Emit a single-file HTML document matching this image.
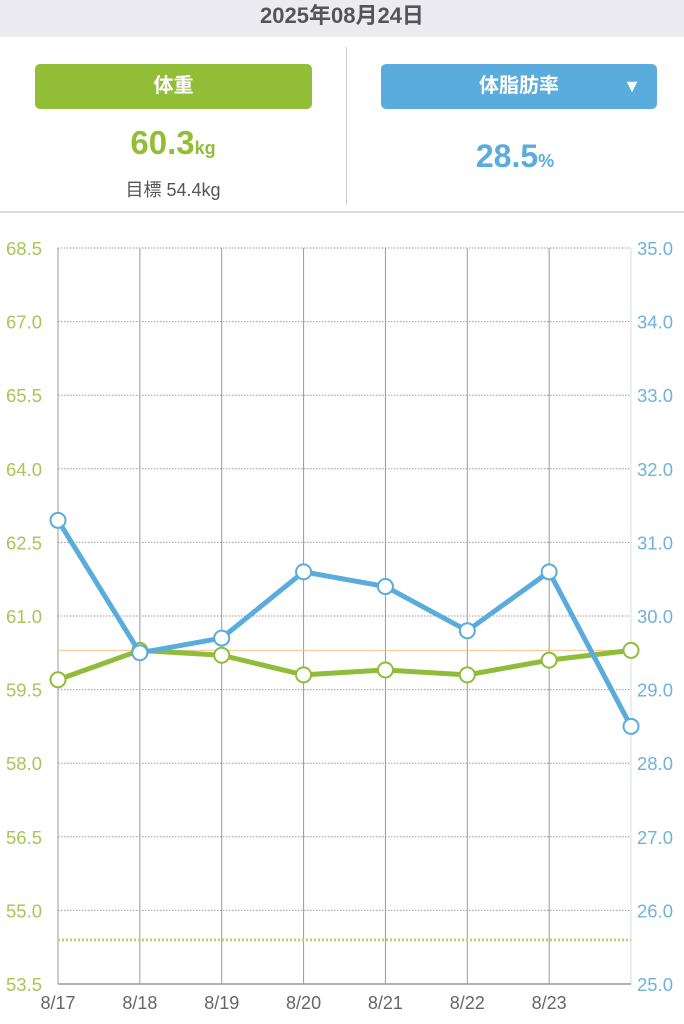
<!DOCTYPE html>
<html><head><meta charset="utf-8"><style>
body{margin:0;width:684px;height:1024px;background:#fff;font-family:"Liberation Sans","Noto Sans CJK JP",sans-serif;position:relative;overflow:hidden}
.hdr{position:absolute;left:0;top:0;width:684px;height:37px;background:#ebebf1;text-align:center;font-size:22px;line-height:31px;color:#555;font-weight:bold}
.btn{position:absolute;top:64px;height:45px;border-radius:5px;color:#fff;font-size:20px;line-height:45px;text-align:center;font-weight:bold}
</style></head><body>
<div class="hdr">2025年08月24日</div>
<div class="btn" style="left:35px;width:277px;background:#92bd36">体重</div>
<div class="btn" style="left:381px;width:276px;background:#5aacdc">体脂肪率<span style="position:absolute;right:16px;top:0;font-size:18px">▼</span></div>
<div style="position:absolute;left:0;width:346px;top:124px;text-align:center;color:#92bd36;font-size:33px;font-weight:bold">60.3<span style="font-size:18px">kg</span></div>
<div style="position:absolute;left:0;width:346px;top:176px;text-align:center;color:#555;font-size:18px">目標 54.4kg</div>
<div style="position:absolute;left:346px;width:338px;top:138px;text-align:center;color:#5aacdc;font-size:32px;font-weight:bold">28.5<span style="font-size:18px">%</span></div>
<div style="position:absolute;left:346px;top:47px;width:1px;height:158px;background:#ccc"></div>
<div style="position:absolute;left:0;top:211px;width:684px;height:2px;background:#ddd"></div>
<svg id="c" width="684" height="1024" style="position:absolute;left:0;top:0"></svg>
<script>
const dates=["8/17","8/18","8/19","8/20","8/21","8/22","8/23","8/24"];
const weight=[59.7,60.3,60.2,59.8,59.9,59.8,60.1,60.3];
const fat=[31.3,29.5,29.7,30.6,30.4,29.8,30.6,28.5];
const leftTicks=["53.5","55.0","56.5","58.0","59.5","61.0","62.5","64.0","65.5","67.0","68.5"];
const rightTicks=["25.0","26.0","27.0","28.0","29.0","30.0","31.0","32.0","33.0","34.0","35.0"];
const currentWeight=60.3, targetWeight=54.4;
const X0=58,X1=631,Y0=984,Y1=248;
const x=i=>X0+(X1-X0)*i/(dates.length-1);
const yl=v=>Y0-(v-53.5)/15*(Y0-Y1);
const yr=v=>Y0-(v-25)/10*(Y0-Y1);
const s=document.getElementById('c'),NS="http://www.w3.org/2000/svg";
function mk(t,a,txt){const e=document.createElementNS(NS,t);for(const k in a)e.setAttribute(k,a[k]);if(txt!=null)e.textContent=txt;s.appendChild(e);return e;}
leftTicks.forEach((t,i)=>{const y=yl(+t);
 if(i>0){const g=mk('line',{x1:X0,x2:X1,y1:y,y2:y,stroke:'#999','stroke-width':1,'stroke-dasharray':'1.5,1.5'});
 
 }
 const a=mk('text',{x:6,y:y+7,fill:'#a6c65a','font-size':18.5},t);
 
 });
rightTicks.forEach(t=>{const a=mk('text',{x:637,y:yr(+t)+7,fill:'#6fb3db','font-size':18.5},t);
 
 });
dates.forEach((d,i)=>{const v=mk('line',{x1:x(i),x2:x(i),y1:Y1,y2:Y0,stroke:i==dates.length-1?'#ddd':'#999','stroke-width':1});
 
 
 if(i<dates.length-1){const t=mk('text',{x:x(i),y:1009,fill:'#666','font-size':18,'text-anchor':'middle'},d);
 
 }});
const ax=mk('line',{x1:X0,x2:X1,y1:Y0,y2:Y0,stroke:'#999','stroke-width':1.5});


const tl=mk('line',{x1:X0,x2:X1,y1:yl(targetWeight),y2:yl(targetWeight),stroke:'#b5d67a','stroke-width':3,'stroke-dasharray':'2,2'});


const cl=mk('line',{x1:X0,x2:X1,y1:yl(currentWeight),y2:yl(currentWeight),stroke:'#f5c28f','stroke-width':1});


function series(vals,yf,col,name){
 const p=mk('polyline',{points:vals.map((v,i)=>x(i)+','+yf(v)).join(' '),fill:'none',stroke:col,'stroke-width':5,'stroke-linejoin':'round'});
 
 
 vals.forEach((v,i)=>{const c=mk('circle',{cx:x(i),cy:yf(v),r:7.5,fill:'#fff',stroke:col,'stroke-width':2});
 
 });
}
series(weight,yl,'#8fbd3a','weight');
series(fat,yr,'#5aacdc','body-fat');
</script>
</body></html>
